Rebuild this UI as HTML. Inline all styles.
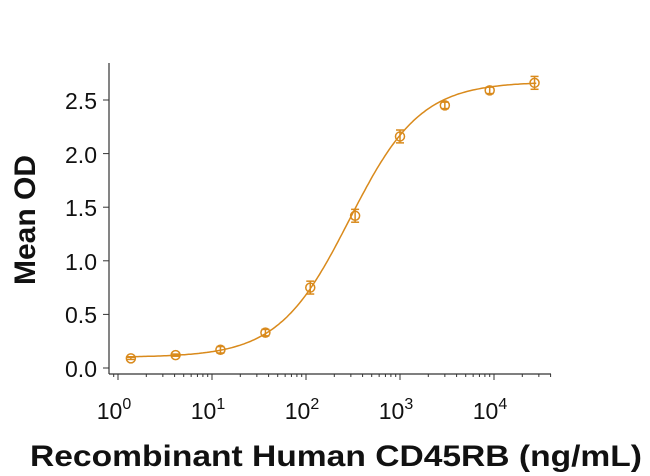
<!DOCTYPE html>
<html><head><meta charset="utf-8"><style>body{margin:0;background:#fff}svg{display:block}</style></head>
<body>
<svg id="s" width="650" height="476" xmlns="http://www.w3.org/2000/svg" font-family="Liberation Sans, Arial, sans-serif">
<g stroke="#333" stroke-width="1.2" fill="none">
<line x1="109" y1="63" x2="109" y2="374"/>
<line x1="109" y1="374" x2="551" y2="374"/>
</g>
<g id="ticks" stroke="#333" stroke-width="1"></g>
<g font-size="23" fill="#111" text-anchor="end">
<text x="97" y="377">0.0</text>
<text x="97" y="323">0.5</text>
<text x="97" y="270">1.0</text>
<text x="97" y="216">1.5</text>
<text x="97" y="163">2.0</text>
<text x="97" y="109">2.5</text>
</g>
<g font-size="23" fill="#111" text-anchor="middle" id="xl"></g>
<text transform="translate(35,220) rotate(-90)" font-size="30" font-weight="bold" text-anchor="middle" fill="#111">Mean OD</text>
<text x="336" y="466" font-size="30" font-weight="bold" text-anchor="middle" fill="#111" textLength="612" lengthAdjust="spacingAndGlyphs">Recombinant Human CD45RB (ng/mL)</text>
<path id="curve" fill="none" stroke="#d98a1c" stroke-width="1.5"/>
<g id="pts" stroke="#d98a1c" stroke-width="1.5" fill="none"></g>
</svg>
<script>
const X=v=>118+94*Math.log10(v), Y=v=>368-107.2*v;
let t='';
for(let d=-1;d<5;d++)for(let m=1;m<10;m++){const x=X(m*Math.pow(10,d));if(x<109||x>551)continue;t+=`<line x1="${x}" y1="374" x2="${x}" y2="${m==1?380:377}"/>`;}
[0,.5,1,1.5,2,2.5].forEach(v=>t+=`<line x1="103" y1="${Y(v)}" x2="109" y2="${Y(v)}"/>`);
document.getElementById('ticks').innerHTML=t;
let l='';for(let d=0;d<5;d++)l+=`<text x="${X(Math.pow(10,d))-4}" y="419">10<tspan font-size="16" dy="-10">${d}</tspan></text>`;
document.getElementById('xl').innerHTML=l;
const f=x=>0.1+(2.67-0.1)/(1+Math.pow(290/x,1.15));
let p='';for(let i=0;i<=200;i++){const lx=0.1+i*(4.45-0.1)/200,x=Math.pow(10,lx);p+=(i?'L':'M')+X(x).toFixed(1)+','+Y(f(x)).toFixed(1);}
document.getElementById('curve').setAttribute('d',p);
const d=[[1.37,.09,.01],[4.1,.12,.01],[12.3,.17,.03],[37,.33,.03],[111,.75,.06],[333,1.42,.06],[1000,2.16,.06],[3000,2.45,.03],[9000,2.59,.03],[27000,2.66,.06]];
let q='';d.forEach(([x,y,e])=>{const cx=X(x),cy=Y(y);q+=`<circle cx="${cx}" cy="${cy}" r="4.5"/><line x1="${cx}" y1="${Y(y+e)}" x2="${cx}" y2="${Y(y-e)}"/><line x1="${cx-4}" y1="${Y(y+e)}" x2="${cx+4}" y2="${Y(y+e)}"/><line x1="${cx-4}" y1="${Y(y-e)}" x2="${cx+4}" y2="${Y(y-e)}"/>`;});
document.getElementById('pts').innerHTML=q;
</script>
</body></html>
